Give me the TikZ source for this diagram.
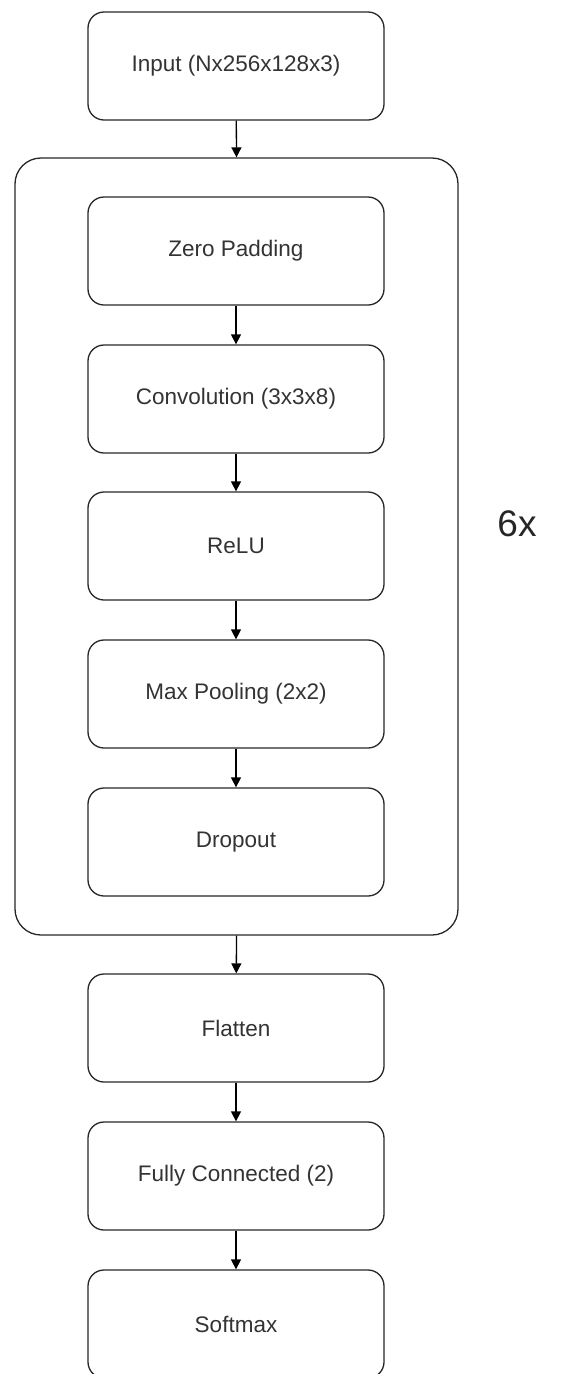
\documentclass[tikz,border=0pt]{standalone}
\usepackage{fontspec}
\setmainfont{Liberation Sans}
\usetikzlibrary{arrows.meta,positioning}
\begin{document}
\begin{tikzpicture}[x=1pt,y=-1pt,
  layer/.style={draw=black!85, line width=1.3pt, rounded corners=16pt,
    minimum width=296pt, minimum height=108pt, inner sep=0pt,
    font=\fontsize{22.5}{26}\selectfont, text=black!80},
  group/.style={draw=black!85, line width=1.3pt, rounded corners=26pt},
  flow/.style={draw=black, line width=1.3pt, -{Triangle[length=10pt,width=10pt]}}]
\useasboundingbox (0,0) rectangle (568,1374);
% layer boxes
\node[layer] (inp)  at (236,66)  {Input (Nx256x128x3)};
\node[layer] (pad)  at (236,251) {Zero Padding};
\node[layer] (conv) at (236,399) {Convolution (3x3x8)};
\node[layer] (relu) at (236,546) {ReLU};
\node[layer] (pool) at (236,694) {Max Pooling (2x2)};
\node[layer] (drop) at (236,842) {Dropout};
\node[layer] (flat) at (236,1028) {Flatten};
\node[layer] (fc)   at (236,1176) {Fully Connected (2)};
\node[layer] (soft) at (236,1324) {Softmax};
% repeated block
\node[group, minimum width=443pt, minimum height=777pt, inner sep=0pt] (blk) at (236.5,546.5) {};
\node[font=\fontsize{37}{40}\selectfont, text=black!85] (rep) at (517,524) {6x};
% connectors
\draw[flow] (inp) -- (blk.north);
\draw[flow] (pad) -- (conv);
\draw[flow] (conv) -- (relu);
\draw[flow] (relu) -- (pool);
\draw[flow] (pool) -- (drop);
\draw[flow] (blk.south) -- (flat);
\draw[flow] (flat) -- (fc);
\draw[flow] (fc) -- (soft);
\end{tikzpicture}
\end{document}
